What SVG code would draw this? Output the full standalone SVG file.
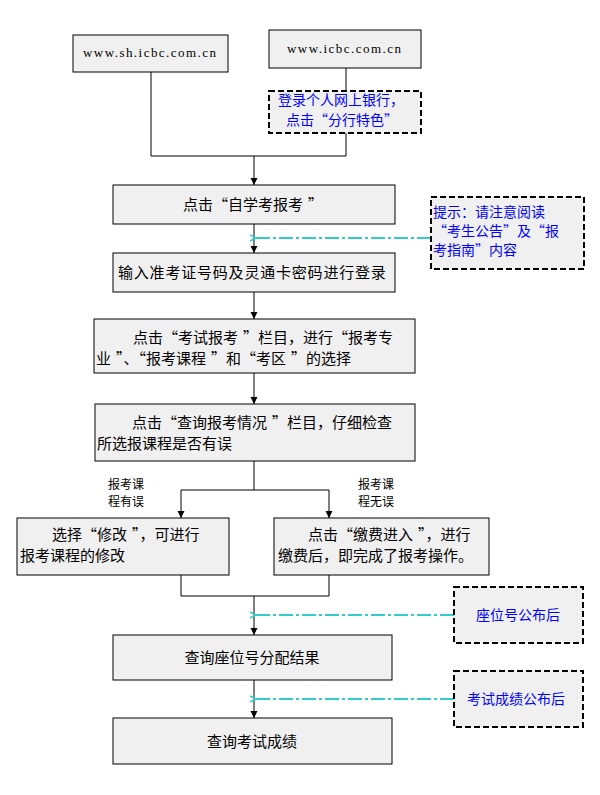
<svg xmlns="http://www.w3.org/2000/svg" width="600" height="795" viewBox="0 0 600 795">
<style>
.box{fill:#f0f0f0;stroke:#000;stroke-width:1}
.dbox{fill:#f0f0f0;stroke:#000;stroke-width:2;stroke-dasharray:6,3}
.t{font-family:"Noto Sans CJK SC","Liberation Sans",sans-serif;font-size:15px;fill:#000;font-variant-east-asian:full-width}
.b{font-family:"Noto Sans CJK SC","Liberation Sans",sans-serif;font-size:14px;fill:#0000ff;font-variant-east-asian:full-width}
.s{font-family:"Noto Sans CJK SC","Liberation Sans",sans-serif;font-size:12px;fill:#000}
.u{font-family:"Liberation Serif",serif;font-size:13px;fill:#000}
.ln{fill:none;stroke:#000;stroke-width:1}
.cy{fill:none;stroke:#33cccc;stroke-width:2;stroke-dasharray:14,3,3,3}
</style>
<defs>
<marker id="ah" markerWidth="8" markerHeight="8" refX="7" refY="4" orient="auto" markerUnits="userSpaceOnUse">
<path d="M0,0.5 L7,4 L0,7.5 Z" fill="#000"/>
</marker>
<marker id="ch" markerWidth="8" markerHeight="8" refX="1" refY="4" orient="auto" markerUnits="userSpaceOnUse">
<path d="M7,1 L1,4 L7,7" fill="none" stroke="#33cccc" stroke-width="1.5"/>
</marker>
</defs>
<g id="connectors">
<path class="ln" d="M151,72 V156 H346 V133"/>
<path class="ln" d="M346,68 V91"/>
<path class="ln" d="M254,156 V185" marker-end="url(#ah)"/>
<path class="ln" d="M254,224 V253" marker-end="url(#ah)"/>
<path class="ln" d="M254,292 V319" marker-end="url(#ah)"/>
<path class="ln" d="M254,373 V404" marker-end="url(#ah)"/>
<path class="ln" d="M254,461 V490"/>
<path class="ln" d="M181,490 H329"/>
<path class="ln" d="M181,490 V518" marker-end="url(#ah)"/>
<path class="ln" d="M329,490 V518" marker-end="url(#ah)"/>
<path class="ln" d="M181,575 V596 H329 V575"/>
<path class="ln" d="M254,596 V635" marker-end="url(#ah)"/>
<path class="ln" d="M254,680 V718" marker-end="url(#ah)"/>
<path class="cy" d="M431,238 H256" marker-end="url(#ch)"/>
<path class="cy" d="M454,615 H256" marker-end="url(#ch)"/>
<path class="cy" d="M454,699 H256" marker-end="url(#ch)"/>
<text class="s" x="108" y="489">报考课</text>
<text class="s" x="108" y="506">程有误</text>
<text class="s" x="358" y="489">报考课</text>
<text class="s" x="358" y="506">程无误</text>
</g>
<g id="n1">
<rect class="box" x="73" y="35" width="155" height="37"/>
<text class="u" x="83" y="57" textLength="133" lengthAdjust="spacing">www.sh.icbc.com.cn</text>
</g>
<g id="n2">
<rect class="box" x="269" y="30" width="152" height="38"/>
<text class="u" x="287" y="53" textLength="114" lengthAdjust="spacing">www.icbc.com.cn</text>
</g>
<g id="n3">
<rect class="dbox" x="269" y="91" width="152" height="42"/>
<text class="b" x="278" y="105">登录个人网上银行，</text>
<text class="b" x="286" y="125">点击“分行特色”</text>
</g>
<g id="n4">
<rect class="box" x="113" y="185" width="282" height="39"/>
<text class="t" x="183" y="210">点击“自学考报考<tspan dx="5">”</tspan></text>
</g>
<g id="n5">
<rect class="dbox" x="431" y="197" width="153" height="72"/>
<text class="b" x="433" y="217">提示：请注意阅读</text>
<text class="b" x="433" y="236">“考生公告”及“报</text>
<text class="b" x="433" y="255">考指南”内容</text>
</g>
<g id="n6">
<rect class="box" x="113" y="253" width="282" height="39"/>
<text class="t" x="118" y="278" letter-spacing="0.8">输入准考证号码及灵通卡密码进行登录</text>
</g>
<g id="n7">
<rect class="box" x="94" y="319" width="321" height="54"/>
<text class="t" x="133" y="343">点击“考试报考<tspan dx="5">”栏目，进行“报考专</tspan></text>
<text class="t" x="96" y="364">业<tspan dx="5">”、“报考课程</tspan><tspan dx="5">”和“考区</tspan><tspan dx="5">”的选择</tspan></text>
</g>
<g id="n8">
<rect class="box" x="95" y="404" width="320" height="57"/>
<text class="t" x="132" y="428">点击“查询报考情况<tspan dx="5">”栏目，仔细检查</tspan></text>
<text class="t" x="97" y="449">所选报课程是否有误</text>
</g>
<g id="n9">
<rect class="box" x="17" y="518" width="212" height="57"/>
<text class="t" x="52" y="540">选择“修改<tspan dx="5">”，可进行</tspan></text>
<text class="t" x="20" y="561">报考课程的修改</text>
</g>
<g id="n10">
<rect class="box" x="274" y="518" width="215" height="57"/>
<text class="t" x="308" y="540">点击“缴费进入<tspan dx="5">”，进行</tspan></text>
<text class="t" x="278" y="561">缴费后，即完成了报考操作。</text>
</g>
<g id="n11">
<rect class="dbox" x="454" y="587" width="129" height="56"/>
<text class="b" x="476" y="620">座位号公布后</text>
</g>
<g id="n12">
<rect class="box" x="113" y="635" width="279" height="45"/>
<text class="t" x="252" y="663" text-anchor="middle">查询座位号分配结果</text>
</g>
<g id="n13">
<rect class="dbox" x="454" y="671" width="129" height="56"/>
<text class="b" x="467" y="704">考试成绩公布后</text>
</g>
<g id="n14">
<rect class="box" x="113" y="718" width="279" height="46"/>
<text class="t" x="252" y="747" text-anchor="middle">查询考试成绩</text>
</g>
</svg>
